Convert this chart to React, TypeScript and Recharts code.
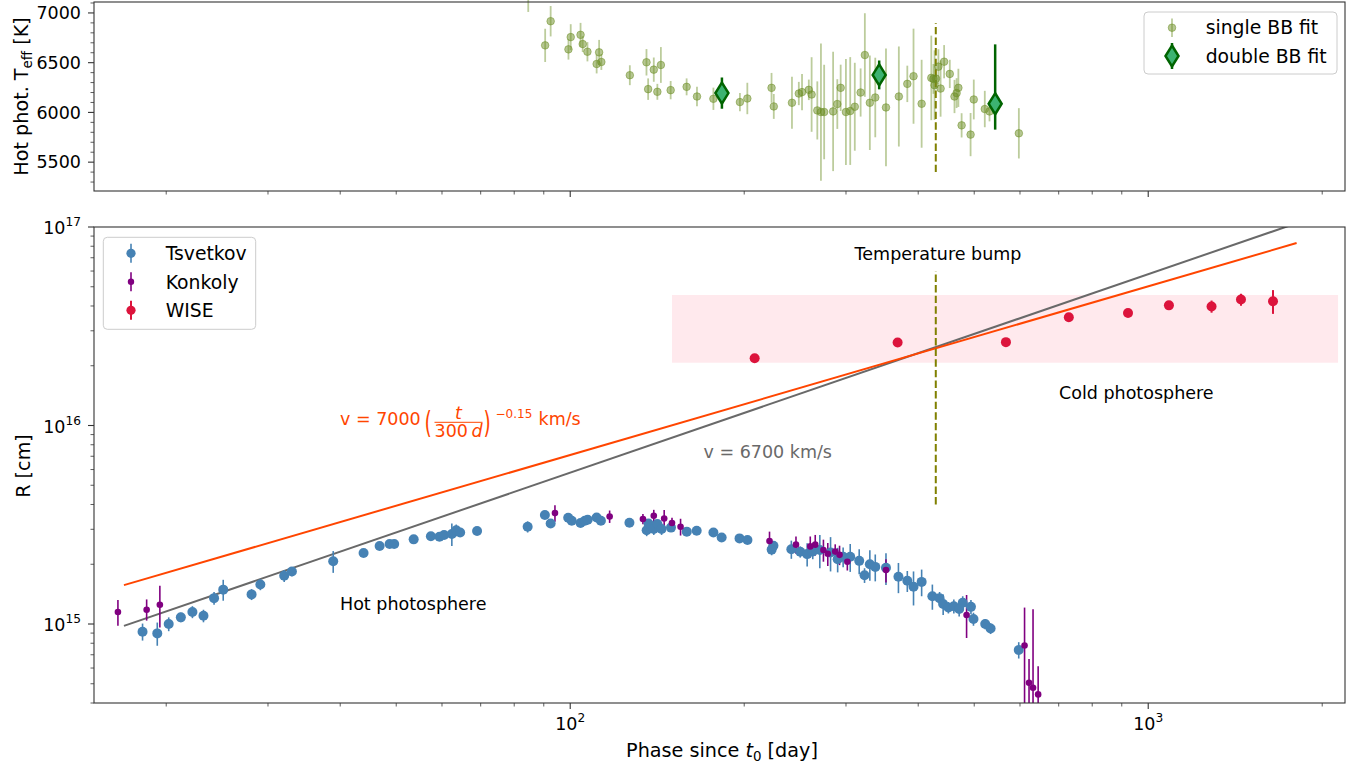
import React from "react";
import {
  ComposedChart,
  Scatter,
  Line,
  XAxis,
  YAxis,
  ErrorBar,
  ReferenceArea,
  ReferenceLine,
} from "recharts";

const FONT = "'DejaVu Sans', sans-serif";
const INK = "#333333";

// shared phase axis, days since t0 (log)
const phaseDomain = [15, 2190];
const phaseTicks = [20, 30, 40, 50, 60, 70, 80, 90, 100, 200, 300, 400, 500, 600, 700, 800, 900, 1000, 2000];
const phaseMajor = [100, 1000];
const phaseExp = ["2", "3"];

// top panel: hot photosphere temperature [K]
const tempDomain = [5210, 7110];
const tempTicks = [5300, 5400, 5500, 5600, 5700, 5800, 5900, 6000, 6100, 6200, 6300, 6400, 6500, 6600, 6700, 6800, 6900, 7000, 7100];
const tempLabels = [5500, 6000, 6500, 7000];

const singleDay = [84.6, 90.5, 92.5, 99.3, 100.2, 104.2, 105.1, 107.1, 111.1, 112.2, 113.2, 126.8, 135.5, 136.4, 139.5, 141.5, 143.5, 149.2, 159.0, 165.7, 176.9, 196.6, 202.5, 223.0, 225.0, 241.9, 248.6, 251.8, 258.7, 261.6, 267.6, 271.5, 275.0, 285.0, 289.8, 293.7, 299.9, 305.1, 310.7, 318.0, 323.4, 329.9, 337.1, 351.8, 370.3, 383.0, 392.6, 405.5, 421.4, 425.0, 426.9, 429.3, 433.5, 437.3, 443.5, 453.6, 462.2, 466.1, 469.4, 475.5, 492.8, 499.1, 521.5, 531.4, 597.3];
const singleT = [7200, 6674, 6917, 6634, 6757, 6780, 6687, 6610, 6487, 6604, 6507, 6374, 6504, 6234, 6430, 6207, 6477, 6224, 6257, 6160, 6137, 6104, 6140, 6247, 6060, 6097, 6190, 6204, 6227, 6180, 6020, 6004, 6004, 6010, 6084, 6247, 6004, 6014, 6057, 6200, 6577, 6097, 6150, 6050, 6160, 6287, 6364, 6087, 6347, 6337, 6274, 6340, 6460, 6240, 6510, 6387, 6160, 6194, 6247, 5870, 5777, 6130, 6034, 6010, 5790];
const singleErr = [190, 167, 153, 103, 130, 120, 80, 97, 95, 125, 80, 100, 133, 108, 122, 80, 180, 92, 85, 97, 112, 92, 158, 150, 125, 262, 117, 183, 103, 375, 292, 690, 475, 600, 250, 233, 533, 542, 442, 242, 420, 475, 400, 592, 503, 183, 478, 442, 425, 150, 350, 100, 175, 283, 167, 142, 167, 150, 192, 122, 217, 200, 183, 100, 253];

const doubleDay = [183.0, 342.4, 543.5];
const doubleT = [6194, 6377, 6087];
const doubleErrLo = [157, 145, 260];
const doubleErrHi = [157, 145, 597];

// bottom panel: radius [cm] (log)
const radiusDomain = [4e14, 1e17];
const radiusTicks = [4e14, 5e14, 6e14, 7e14, 8e14, 9e14, 1e15, 2e15, 3e15, 4e15, 5e15, 6e15, 7e15, 8e15, 9e15, 1e16, 2e16, 3e16, 4e16, 5e16, 6e16, 7e16, 8e16, 9e16, 1e17];
const radiusMajor = [1e15, 1e16, 1e17];
const radiusExp = ["15", "16", "17"];

// Tsvetkov, R in 1e15 cm
const tsvDay = [18.2, 19.3, 20.2, 21.2, 22.2, 23.2, 24.2, 25.1, 28.1, 29.1, 32.0, 33.0, 38.9, 43.9, 46.8, 48.7, 49.6, 53.6, 57.4, 59.4, 60.5, 62.4, 63.5, 64.5, 69.0, 84.4, 90.4, 92.5, 99.2, 100.6, 104.2, 106.0, 107.2, 111.1, 113.0, 126.6, 135.6, 136.6, 139.5, 141.5, 143.9, 149.4, 159.1, 165.5, 176.9, 182.8, 196.3, 202.6, 223.1, 224.7, 241.3, 250.0, 257.0, 262.8, 270.3, 282.1, 290.2, 296.6, 305.1, 316.2, 323.0, 329.9, 337.1, 351.8, 369.7, 383.0, 392.6, 405.5, 423.2, 435.5, 441.8, 451.1, 461.0, 470.9, 477.6, 493.5, 498.5, 522.4, 533.7, 597.0];
const tsvR = [0.915, 0.897, 1.0, 1.08, 1.15, 1.1, 1.35, 1.49, 1.41, 1.58, 1.75, 1.84, 2.07, 2.28, 2.47, 2.53, 2.53, 2.67, 2.77, 2.75, 2.81, 2.84, 2.97, 2.89, 2.94, 3.09, 3.54, 3.21, 3.43, 3.31, 3.23, 3.31, 3.35, 3.44, 3.31, 3.24, 2.97, 3.21, 3.01, 3.19, 3.01, 3.06, 2.92, 2.95, 2.89, 2.73, 2.7, 2.65, 2.37, 2.48, 2.38, 2.31, 2.25, 2.32, 2.36, 2.29, 2.12, 2.18, 2.18, 2.08, 1.76, 2.0, 1.94, 1.92, 1.73, 1.65, 1.54, 1.63, 1.38, 1.35, 1.26, 1.21, 1.23, 1.19, 1.28, 1.22, 1.06, 1.0, 0.95, 0.74];
const tsvErr = [0.09, 0.12, 0.08, 0.06, 0.08, 0.08, 0.1, 0.18, 0.09, 0.1, 0.12, 0.1, 0.26, 0.1, 0.1, 0.1, 0.1, 0.12, 0.1, 0.1, 0.1, 0.37, 0.2, 0.12, 0.1, 0.2, 0.15, 0.15, 0.12, 0.12, 0.12, 0.12, 0.12, 0.15, 0.12, 0.12, 0.2, 0.15, 0.2, 0.15, 0.2, 0.12, 0.1, 0.1, 0.1, 0.12, 0.1, 0.1, 0.15, 0.12, 0.25, 0.15, 0.3, 0.2, 0.45, 0.45, 0.3, 0.25, 0.35, 0.3, 0.15, 0.35, 0.3, 0.35, 0.3, 0.2, 0.3, 0.25, 0.2, 0.1, 0.15, 0.08, 0.1, 0.1, 0.1, 0.1, 0.08, 0.06, 0.06, 0.07];

// Konkoly, R in 1e15 cm (last four lower bars run off the bottom of the plot; cut at the axis)
const konDay = [16.5, 18.5, 19.5, 94.1, 117.0, 133.6, 139.5, 145.4, 150.0, 155.2, 221.2, 245.8, 260.2, 265.4, 274.2, 279.0, 287.4, 292.4, 301.6, 351.8, 485.0, 611.0, 622.0, 632.0, 645.0];
const konR = [1.15, 1.18, 1.25, 3.62, 3.48, 3.38, 3.51, 3.4, 3.23, 3.09, 2.62, 2.51, 2.46, 2.51, 2.36, 2.26, 2.32, 2.23, 2.06, 1.87, 1.11, 0.78, 0.506, 0.477, 0.442];
const konErrLo = [0.17, 0.14, 0.29, 0.35, 0.25, 0.2, 0.25, 0.35, 0.2, 0.3, 0.3, 0.25, 0.3, 0.3, 0.3, 0.3, 0.2, 0.25, 0.2, 0.25, 0.26, 0.38, 0.106, 0.077, 0.042];
const konErrHi = [0.17, 0.15, 0.31, 0.35, 0.25, 0.2, 0.25, 0.35, 0.2, 0.3, 0.3, 0.25, 0.3, 0.3, 0.3, 0.3, 0.2, 0.25, 0.2, 0.25, 0.29, 0.43, 0.16, 0.71, 0.17];

// WISE, R in 1e16 cm
const wiseDay = [208.5, 368.5, 567.3, 728.8, 922.7, 1086, 1287, 1447, 1644];
const wiseR = [2.18, 2.62, 2.63, 3.51, 3.69, 4.03, 3.98, 4.31, 4.23];
const wiseErr = [0.05, 0.05, 0.05, 0.08, 0.1, 0.15, 0.28, 0.3, 0.58];

// expansion lines (end points)
const lineDays = [16.9, 1806];
const constVelR = [9.78e14, 1.045e17];
const decelVelR = [1.57e15, 8.3e16];

// temperature bump marker and cold photosphere band
const bumpDay = 429;
const bumpT = [5400, 6900];
const bumpR = [4e15, 6e16];
const coldDays = [150, 2130];
const coldR = [2.07e16, 4.54e16];

const singleRows = singleDay.map((x, i) => ({ x, y: singleT[i], e: singleErr[i] }));
const doubleRows = doubleDay.map((x, i) => ({ x, y: doubleT[i], e: [doubleErrLo[i], doubleErrHi[i]] }));
const tsvRows = tsvDay.map((x, i) => ({ x, y: tsvR[i] * 1e15, e: tsvErr[i] * 1e15 }));
const konRows = konDay.map((x, i) => ({ x, y: konR[i] * 1e15, e: [konErrLo[i] * 1e15, konErrHi[i] * 1e15] }));
const wiseRows = wiseDay.map((x, i) => ({ x, y: wiseR[i] * 1e16, e: wiseErr[i] * 1e16 }));
const constRows = lineDays.map((x, i) => ({ x, y: constVelR[i] }));
const decelRows = lineDays.map((x, i) => ({ x, y: decelVelR[i] }));

const OLIVE_PT = "#6b8e23";
const LABEL_SIZE = 19.2;
const LEGEND_SIZE = 18.8;

function PhaseTick({ x, y, payload, labelled }: any) {
  const k = phaseMajor.indexOf(payload.value);
  const major = k >= 0;
  return (
    <g>
      <line x1={x} x2={x} y1={y} y2={y + (major ? 6 : 3.5)} stroke={INK} strokeWidth={major ? 1.1 : 0.8} />
      {labelled && major && (
        <text x={x} y={y + 27} textAnchor="middle" fontFamily={FONT} fontSize={17.5} fill="#000">
          10
          <tspan dy={-8} fontSize={12.2}>{phaseExp[k]}</tspan>
        </text>
      )}
    </g>
  );
}

function TempTick({ x, y, payload }: any) {
  const major = tempLabels.includes(payload.value);
  return (
    <g>
      <line x1={x - (major ? 6 : 3.5)} x2={x} y1={y} y2={y} stroke={INK} strokeWidth={major ? 1.1 : 0.8} />
      {major && (
        <text x={x - 13} y={y + 6.3} textAnchor="end" fontFamily={FONT} fontSize={17.5} fill="#000">
          {payload.value}
        </text>
      )}
    </g>
  );
}

function RadiusTick({ x, y, payload }: any) {
  const k = radiusMajor.indexOf(payload.value);
  const major = k >= 0;
  return (
    <g>
      <line x1={x - (major ? 6 : 3.5)} x2={x} y1={y} y2={y} stroke={INK} strokeWidth={major ? 1.1 : 0.8} />
      {major && (
        <text x={x - 13} y={y + 7} textAnchor="end" fontFamily={FONT} fontSize={17.5} fill="#000">
          10
          <tspan dy={-8} fontSize={12.2}>{radiusExp[k]}</tspan>
        </text>
      )}
    </g>
  );
}

const singleShape = (p: any) => (
  <circle cx={p.cx} cy={p.cy} r={3.8} fill={OLIVE_PT} fillOpacity={0.5} stroke={OLIVE_PT} strokeOpacity={0.5} strokeWidth={1} />
);
const diamondShape = (p: any) => (
  <polygon
    points={`${p.cx},${p.cy - 10.5} ${p.cx + 6.5},${p.cy} ${p.cx},${p.cy + 10.5} ${p.cx - 6.5},${p.cy}`}
    fill="mediumseagreen"
    stroke="darkgreen"
    strokeWidth={2.5}
  />
);
const dotShape = (r: number, color: string) => (p: any) => <circle cx={p.cx} cy={p.cy} r={r} fill={color} />;

const bottomLegend = [
  { label: "Tsvetkov", color: "steelblue", r: 4.6, w: 1.6 },
  { label: "Konkoly", color: "purple", r: 3.2, w: 1.6 },
  { label: "WISE", color: "crimson", r: 4.6, w: 2 },
];

function Overlay() {
  return (
    <svg
      width={1364}
      height={768}
      style={{ position: "absolute", left: 0, top: 0, pointerEvents: "none" }}
      fontFamily={FONT}
    >
      {/* frames */}
      <rect x={94} y={2} width={1251} height={189} fill="none" stroke={INK} strokeWidth={1.1} />
      <rect x={94} y={227} width={1251} height={476} fill="none" stroke={INK} strokeWidth={1.1} />

      {/* axis titles */}
      <text transform="rotate(-90, 27.5, 96.5)" x={27.5} y={96.5} textAnchor="middle" fontSize={LABEL_SIZE} fill="#000">
        Hot phot. T<tspan dy={4} fontSize={13.4}>eff</tspan>
        <tspan dy={-4}> [K]</tspan>
      </text>
      <text transform="rotate(-90, 29.5, 466)" x={29.5} y={466} textAnchor="middle" fontSize={LABEL_SIZE} fill="#000">
        R [cm]
      </text>
      <text x={722} y={757} textAnchor="middle" fontSize={LABEL_SIZE} fill="#000">
        Phase since <tspan fontStyle="italic">t</tspan>
        <tspan dy={4} fontSize={13.4}>0</tspan>
        <tspan dy={-4}> [day]</tspan>
      </text>

      {/* annotations */}
      <text x={938} y={259.5} textAnchor="middle" fontSize={17.5} fill="#000">Temperature bump</text>
      <text x={1059} y={398.5} fontSize={17.5} fill="#000">Cold photosphere</text>
      <text x={340} y={609.5} fontSize={17.5} fill="#000">Hot photosphere</text>
      <text x={703.5} y={457.5} fontSize={17.5} fill="dimgray">v = 6700 km/s</text>
      <g fill="orangered" fontSize={17.5}>
        <text x={340} y={424.5}>v = 7000</text>
        <text transform="translate(424.5,432.5) scale(0.62,1)" fontSize={30}>(</text>
        <text x={458.5} y={419} textAnchor="middle" fontStyle="italic">t</text>
        <line x1={434.5} x2={482.5} y1={422.3} y2={422.3} stroke="orangered" strokeWidth={1} />
        <text x={434.5} y={437}>300</text>
        <text x={471.5} y={437} fontStyle="italic">d</text>
        <text transform="translate(483.5,432.5) scale(0.62,1)" fontSize={30}>)</text>
        <text x={495.5} y={418} fontSize={12}>−0.15</text>
        <text x={538.5} y={424.5}>km/s</text>
      </g>

      {/* top legend */}
      <rect x={1144} y={12} width={193} height={62} rx={4} fill="#fff" fillOpacity={0.8} stroke="#cccccc" />
      <line x1={1172} x2={1172} y1={18.5} y2={37} stroke={OLIVE_PT} strokeOpacity={0.45} strokeWidth={1.8} />
      <circle cx={1172} cy={27.7} r={3.8} fill={OLIVE_PT} fillOpacity={0.5} stroke={OLIVE_PT} strokeOpacity={0.5} />
      <text x={1205.7} y={34.3} fontSize={LEGEND_SIZE} fill="#000">single BB fit</text>
      <line x1={1172} x2={1172} y1={43} y2={69} stroke="darkgreen" strokeWidth={2.5} />
      <polygon points="1172,45.5 1178.5,56 1172,66.5 1165.5,56" fill="mediumseagreen" stroke="darkgreen" strokeWidth={2.5} />
      <text x={1205.7} y={62.6} fontSize={LEGEND_SIZE} fill="#000">double BB fit</text>

      {/* bottom legend */}
      <rect x={103.3} y={237.3} width={152.4} height={92} rx={4} fill="#fff" fillOpacity={0.8} stroke="#cccccc" />
      {bottomLegend.map((d, i) => {
        const cy = 253.3 + i * 28.5;
        return (
          <g key={d.label}>
            <line x1={131} x2={131} y1={cy - 9.5} y2={cy + 9.5} stroke={d.color} strokeWidth={d.w} />
            <circle cx={131} cy={cy} r={d.r} fill={d.color} />
            <text x={165.7} y={cy + 6.7} fontSize={LEGEND_SIZE} fill="#000">{d.label}</text>
          </g>
        );
      })}
    </svg>
  );
}

export default function App() {
  return (
    <div style={{ position: "absolute", left: 0, top: 0, width: 1364, height: 768, background: "#fff" }}>
      {/* temperature panel */}
      <div style={{ position: "absolute", left: 0, top: 0 }}>
        <ComposedChart width={1364} height={200} margin={{ top: 2, right: 19, bottom: 0, left: 0 }}>
          <XAxis
            dataKey="x"
            type="number"
            scale="log"
            domain={phaseDomain}
            allowDataOverflow
            ticks={phaseTicks}
            interval={0}
            axisLine={false}
            tickLine={false}
            tickSize={0}
            tickMargin={0}
            height={9}
            tick={(p: any) => <PhaseTick {...p} labelled={false} />}
          />
          <YAxis
            dataKey="y"
            type="number"
            domain={tempDomain}
            allowDataOverflow
            ticks={tempTicks}
            interval={0}
            axisLine={false}
            tickLine={false}
            tickSize={0}
            tickMargin={0}
            width={94}
            tick={(p: any) => <TempTick {...p} />}
          />
          <Scatter data={singleRows} shape={singleShape} isAnimationActive={false}>
            <ErrorBar dataKey="e" direction="y" width={0} stroke={OLIVE_PT} strokeOpacity={0.45} strokeWidth={1.8} />
          </Scatter>
          <Scatter data={doubleRows} shape={diamondShape} isAnimationActive={false}>
            <ErrorBar dataKey="e" direction="y" width={0} stroke="darkgreen" strokeWidth={2.5} />
          </Scatter>
          <ReferenceLine
            segment={[{ x: bumpDay, y: bumpT[0] }, { x: bumpDay, y: bumpT[1] }]}
            stroke="olive"
            strokeWidth={2}
            strokeDasharray="7.4 3.2"
          />
        </ComposedChart>
      </div>

      {/* radius panel */}
      <div style={{ position: "absolute", left: 0, top: 200 }}>
        <ComposedChart width={1364} height={568} margin={{ top: 27, right: 19, bottom: 0, left: 0 }}>
          <XAxis
            dataKey="x"
            type="number"
            scale="log"
            domain={phaseDomain}
            allowDataOverflow
            ticks={phaseTicks}
            interval={0}
            axisLine={false}
            tickLine={false}
            tickSize={0}
            tickMargin={0}
            height={65}
            tick={(p: any) => <PhaseTick {...p} labelled />}
          />
          <YAxis
            dataKey="y"
            type="number"
            scale="log"
            domain={radiusDomain}
            allowDataOverflow
            ticks={radiusTicks}
            interval={0}
            axisLine={false}
            tickLine={false}
            tickSize={0}
            tickMargin={0}
            width={94}
            tick={(p: any) => <RadiusTick {...p} />}
          />
          <ReferenceArea x1={coldDays[0]} x2={coldDays[1]} y1={coldR[0]} y2={coldR[1]} fill="pink" fillOpacity={0.35} stroke="none" />
          <Line data={constRows} dataKey="y" stroke="dimgray" strokeWidth={2} dot={false} isAnimationActive={false} />
          <Line data={decelRows} dataKey="y" stroke="orangered" strokeWidth={2} dot={false} isAnimationActive={false} />
          <ReferenceLine
            segment={[{ x: bumpDay, y: bumpR[0] }, { x: bumpDay, y: bumpR[1] }]}
            stroke="olive"
            strokeWidth={2}
            strokeDasharray="7.4 3.2"
          />
          <Scatter data={tsvRows} shape={dotShape(5, "steelblue")} isAnimationActive={false}>
            <ErrorBar dataKey="e" direction="y" width={0} stroke="steelblue" strokeWidth={1.6} />
          </Scatter>
          <Scatter data={konRows} shape={dotShape(3.3, "purple")} isAnimationActive={false}>
            <ErrorBar dataKey="e" direction="y" width={0} stroke="purple" strokeWidth={1.6} />
          </Scatter>
          <Scatter data={wiseRows} shape={dotShape(5, "crimson")} isAnimationActive={false}>
            <ErrorBar dataKey="e" direction="y" width={0} stroke="crimson" strokeWidth={2} />
          </Scatter>
        </ComposedChart>
      </div>

      <Overlay />
    </div>
  );
}
